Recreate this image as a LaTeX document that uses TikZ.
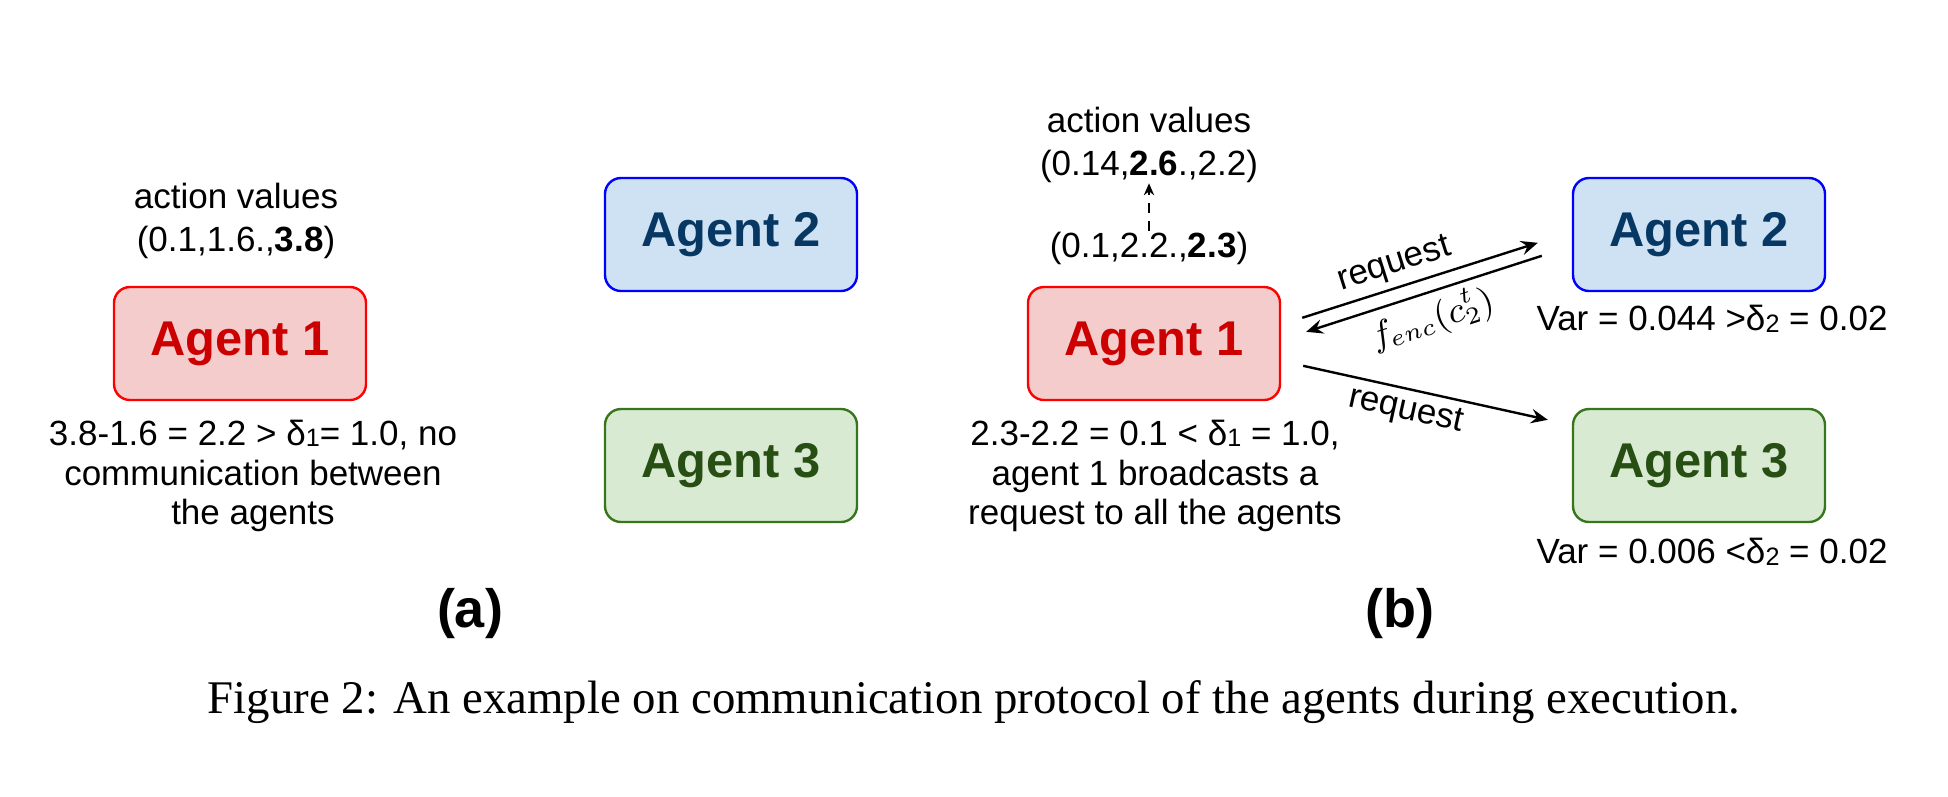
\documentclass[tikz,border=0pt]{standalone}
\usepackage{fontspec}
\setmainfont{Liberation Sans}
\newfontfamily\capfont{Liberation Serif}
\usetikzlibrary{arrows.meta,calc}
\definecolor{rfill}{HTML}{F4CCCC}
\definecolor{rdraw}{HTML}{FF0000}
\definecolor{rtext}{HTML}{CC0000}
\definecolor{bfill}{HTML}{CFE2F3}
\definecolor{bdraw}{HTML}{0000FF}
\definecolor{btext}{HTML}{073763}
\definecolor{gfill}{HTML}{D9EAD3}
\definecolor{gdraw}{HTML}{38761D}
\definecolor{gtext}{HTML}{274E13}
\newcommand\dsb[1]{\raisebox{-0.08ex}{\fontsize{6.3}{6.3}\selectfont #1}}
\tikzset{
  agent/.style={rounded corners=4pt, line width=0.6pt, minimum width=63pt, minimum height=28.25pt, inner sep=0pt, font=\fontsize{12.2}{14}\selectfont\bfseries},
  agentA/.style={agent, draw=rdraw, fill=rfill, text=rtext},
  agentB/.style={agent, draw=bdraw, fill=bfill, text=btext},
  agentC/.style={agent, draw=gdraw, fill=gfill, text=gtext},
  txt/.style={font=\fontsize{8.75}{9.9}\selectfont, align=center, inner sep=0pt},
  two/.style={font=\fontsize{8.75}{10.6}\selectfont, align=center, inner sep=0pt},
  sublbl/.style={font=\fontsize{13.5}{15}\selectfont\bfseries, inner sep=0pt},
  arr/.style={-{Stealth[length=4.2pt,width=3.6pt,inset=1.5pt]}, line width=0.6pt},
  darr/.style={-{Stealth[length=3pt,width=2.6pt,inset=1pt]}, line width=0.4pt, dash pattern=on 2.5pt off 2pt},
  edgelbl/.style={font=\fontsize{8.75}{9.9}\selectfont, inner sep=1.5pt}
}
\begin{document}
\begin{tikzpicture}[x=0.25pt,y=-0.25pt]
\useasboundingbox (0,0) rectangle (1948,796);
% ---------- (a)
\node[agentA] (a1) at (240,343.5) {Agent 1};
\node[agentB] (a2) at (731,234.5) {Agent 2};
\node[agentC] (a3) at (731,465.5) {Agent 3};
\node[two] (av) at (236,221) {action values\\(0.1,1.6.,\textbf{3.8})};
\node[txt] (at) at (253,476) {3.8-1.6 = 2.2 > δ\dsb{1}= 1.0, no\\communication between\\the agents};
\node[sublbl] (la) at (470,614) {(a)};
% ---------- (b)
\node[agentA] (b1) at (1154,343.5) {Agent 1};
\node[agentB] (b2) at (1699,234.5) {Agent 2};
\node[agentC] (b3) at (1699,465.5) {Agent 3};
\node[two] (bv) at (1149,145) {action values\\(0.14,\textbf{2.6}.,2.2)};
\node[txt] (bc) at (1149,248) {(0.1,2.2.,\textbf{2.3})};
\node[txt] (bt) at (1155,476) {2.3-2.2 = 0.1 < δ\dsb{1} = 1.0,\\agent 1 broadcasts a\\request to all the agents};
\node[txt] (v2) at (1712,319) {Var = 0.044 >δ\dsb{2} = 0.02};
\node[txt] (v3) at (1712,552) {Var = 0.006 <δ\dsb{2} = 0.02};
\node[sublbl] (lb) at (1400,614) {(b)};
\draw[darr] (bc.north) -- (bv.south);
\draw[arr] ($(b1.north east)+(21,32)$) -- node[edgelbl, pos=0.42, sloped, above] {request} ($(b2.north west)+(-34,66)$);
\draw[arr] ($(b2.north west)+(-30,79)$) -- node[edgelbl, midway, sloped, below] {$f_{enc}(c_2^t)$} ($(b1.north east)+(25,46)$);
\draw[arr] ($(b1.north east)+(22,80)$) -- node[edgelbl, pos=0.44, sloped, below] {request} ($(b3.north west)+(-24,12)$);
% ---------- caption
\node[font=\capfont\fontsize{11.7}{13}\selectfont, inner sep=0pt] (cap) at (974,702) {Figure 2: An example on communication protocol of the agents during execution.};
\end{tikzpicture}
\end{document}
